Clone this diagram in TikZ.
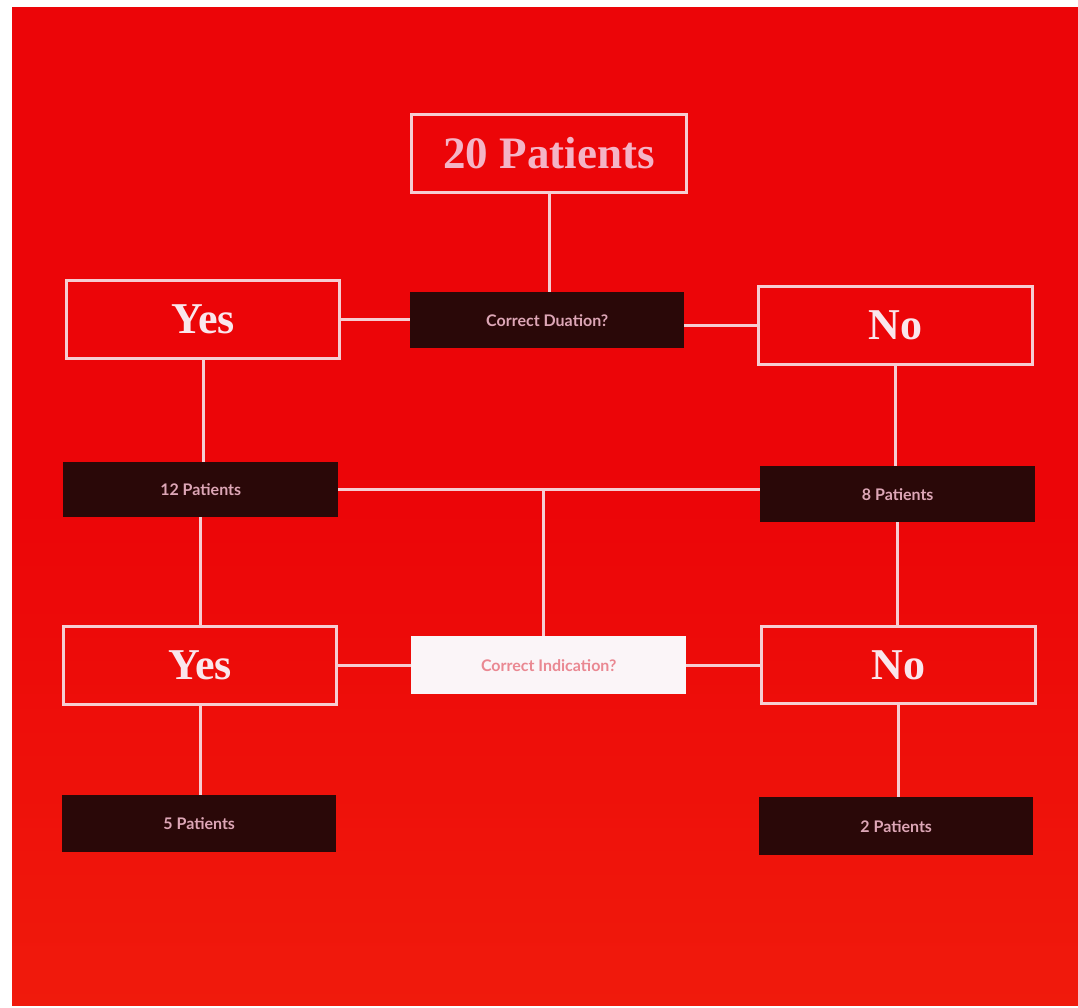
\documentclass[tikz,border=0pt]{standalone}
\usepackage{fontspec}
\setmainfont{Liberation Serif}
\newfontfamily\smallsans{Lato}
\definecolor{bgred}{HTML}{EC0508}
\definecolor{bgred2}{HTML}{F01A0C}
\definecolor{edgepink}{HTML}{F6CDD2}
\definecolor{darkfill}{HTML}{2A0808}
\definecolor{titlepink}{HTML}{F4B4C6}
\definecolor{yesno}{HTML}{FAE6EC}
\definecolor{smallpink}{HTML}{DDA6B6}
\definecolor{cipink}{HTML}{EA8892}
\definecolor{ciwhite}{HTML}{FBF5F8}
\begin{document}
\begin{tikzpicture}[x=1pt,y=-1pt,
  outbox/.style={draw=edgepink, line width=3pt, fill=none, inner sep=0pt, anchor=north west},
  darkbox/.style={draw=none, fill=darkfill, inner sep=0pt, anchor=north west, text=smallpink, font=\smallsans\bfseries\fontsize{16}{18}\selectfont},
  link/.style={draw=edgepink, line width=3pt},
  bigtxt/.style={font=\fontsize{45}{50}\selectfont\bfseries},
  yntxt/.style={font=\fontsize{44}{50}\selectfont\bfseries, text=yesno}
]
\useasboundingbox (0,0) rectangle (1078,1008);
\fill[white] (0,0) rectangle (1078,1008);
\shade[top color=bgred, bottom color=bgred2, middle color=bgred] (12,8) rectangle (1078,1005);

% boxes
\node[outbox, minimum width=275pt, minimum height=78pt, text=titlepink, bigtxt] (top) at (410,113) {20 Patients};
\node[darkbox, minimum width=274pt, minimum height=56pt] (q1) at (410,292) {Correct Duation?};
\node[outbox, minimum width=273pt, minimum height=78pt, yntxt] (yes1) at (65,279) {Yes};
\node[outbox, minimum width=274pt, minimum height=78pt, yntxt] (no1) at (757,285) {No};
\node[darkbox, minimum width=275pt, minimum height=55pt] (p12) at (63,462) {12 Patients};
\node[darkbox, minimum width=275pt, minimum height=56pt] (p8) at (760,466) {8 Patients};
\node[outbox, minimum width=273pt, minimum height=78pt, yntxt] (yes2) at (62,625) {Yes};
\node[outbox, minimum width=274pt, minimum height=77pt, yntxt] (no2) at (760,625) {No};
\node[draw=none, fill=ciwhite, inner sep=0pt, anchor=north west, minimum width=275pt, minimum height=58pt, text=cipink, font=\smallsans\bfseries\fontsize{16}{18}\selectfont] (q2) at (411,636) {Correct Indication?};
\node[darkbox, minimum width=274pt, minimum height=57pt] (p5) at (62,795) {5 Patients};
\node[darkbox, minimum width=274pt, minimum height=58pt] (p2) at (759,797) {2 Patients};

\coordinate (mid) at (543,491);

% connectors
\draw[link] (top.south) -- (top.south |- q1.north);
\draw[link] (yes1.east) -- (yes1.east -| q1.west);
\draw[link] (q1.east |- no1.west) -- (no1.west);
\draw[link] (yes1.south) -- (yes1.south |- p12.north);
\draw[link] (no1.south) -- (no1.south |- p8.north);
\draw[link] (p12.east) -- (p12.east -| p8.west);
\draw[link] (mid) -- (mid |- q2.north);
\draw[link] (p12.south) -- (p12.south |- yes2.north);
\draw[link] (p8.south) -- (p8.south |- no2.north);
\draw[link] (yes2.east) -- (yes2.east -| q2.west);
\draw[link] (q2.east) -- (q2.east -| no2.west);
\draw[link] (yes2.south) -- (yes2.south |- p5.north);
\draw[link] (no2.south) -- (no2.south |- p2.north);
\end{tikzpicture}
\end{document}
